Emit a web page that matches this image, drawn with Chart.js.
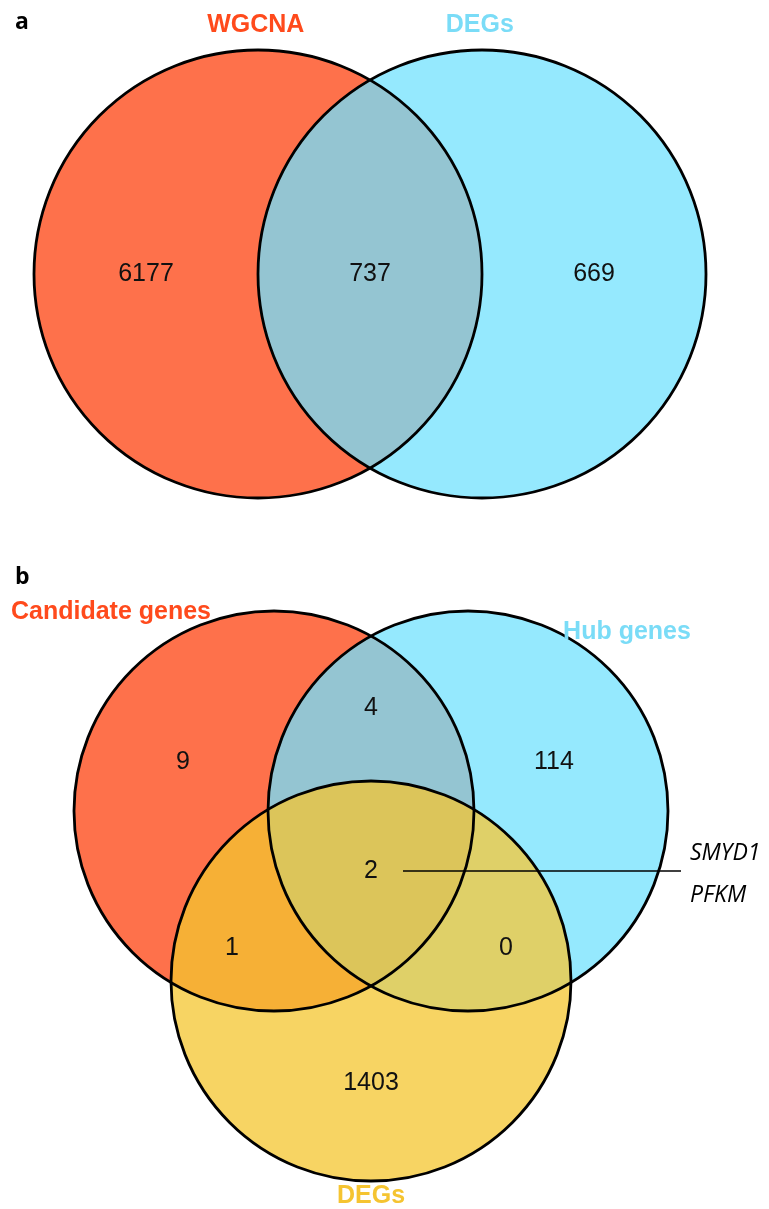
<!DOCTYPE html>
<html>
<head>
<meta charset="utf-8">
<script src="https://cdn.jsdelivr.net/npm/chart.js@4.4.1/dist/chart.umd.min.js"></script>
<style>
  html, body { margin: 0; padding: 0; background: #ffffff; }
  canvas { display: block; }
</style>
</head>
<body>
<canvas id="vennA" width="769" height="560"></canvas>
<canvas id="vennB" width="769" height="649"></canvas>
<script>
// ---- Panel a: WGCNA module genes vs. DEGs ----
const setNamesA = ['WGCNA', 'DEGs'];
const regionKeysA = ['10', '11', '01'];          // membership per set
const regionCountsA = [6177, 737, 669];

// ---- Panel b: candidate genes, hub genes, DEGs ----
const setNamesB = ['Candidate genes', 'Hub genes', 'DEGs'];
const regionKeysB = ['100', '010', '001', '110', '101', '011', '111'];
const regionCountsB = [9, 114, 1403, 4, 1, 0, 2];
const sharedGenesB = ['SMYD1', 'PFKM'];

// ---- styles ----
const setLabelColors = {
  red: '#FF4A1C',
  cyan: '#7ADCF7',
  yellow: '#F5C431'
};
const regionFillA = { '10': '#FE714B', '11': '#94C5D2', '01': '#95E9FE' };
const regionFillB = {
  '100': '#FE714B', '010': '#95E9FE', '001': '#F7D463',
  '110': '#94C5D2', '101': '#F6B036', '011': '#DFD068', '111': '#DCC55A'
};

// ---- layout (in circle-radius units) ----
const layoutA = {
  originPx: [370, 274], unitPx: 224,
  circles: [{ x: -0.5, y: 0, r: 1 }, { x: 0.5, y: 0, r: 1 }],
  regionPos: { '10': [-1.0, 0], '11': [0, 0], '01': [1.0, 0] },
  setLabelPos: [[-0.51, 1.08], [0.49, 1.08]],
  setLabelColor: [setLabelColors.red, setLabelColors.cyan],
  panelLetter: { text: 'a', pos: [-1.585, 1.094] }
};
const layoutB = {
  originPx: [371, 251], unitPx: 200,
  circles: [{ x: -0.485, y: 0, r: 1 }, { x: 0.485, y: 0, r: 1 }, { x: 0, y: -0.85, r: 1 }],
  regionPos: {
    '100': [-0.94, 0.245], '010': [0.915, 0.245], '001': [0, -1.36],
    '110': [0, 0.515], '101': [-0.695, -0.685], '011': [0.675, -0.685], '111': [0, -0.30]
  },
  setLabelPos: [[-1.30, 0.96], [1.28, 0.86], [0, -1.96]],
  setLabelColor: [setLabelColors.red, setLabelColors.cyan, setLabelColors.yellow],
  panelLetter: { text: 'b', pos: [-1.78, 1.135] },
  leader: { from: [0.16, -0.30], to: [1.55, -0.30] },
  geneLabelPos: [[1.595, -0.245], [1.595, -0.455]]
};

const NUM_FONT = '25px "Liberation Sans", Arial, sans-serif';
const SET_FONT = 'bold 25px "Liberation Sans", Arial, sans-serif';
const GENE_FONT = 'italic 23px "Open Sans", sans-serif';
const LETTER_FONT = 'bold 23px "Open Sans", sans-serif';

function vennPlugin(names, keys, counts, fills, layout, genes) {
  return {
    id: 'venn',
    beforeDatasetsDraw(chart) {
      const { ctx, scales: { x, y }, chartArea: area } = chart;
      const unit = x.getPixelForValue(1) - x.getPixelForValue(0);
      const circles = layout.circles.map(c => ({
        px: x.getPixelForValue(c.x), py: y.getPixelForValue(c.y), pr: c.r * unit
      }));
      // fill each region by clipping inside / outside the circles
      keys.forEach(k => {
        ctx.save();
        circles.forEach((c, i) => {
          ctx.beginPath();
          if (k[i] === '1') {
            ctx.arc(c.px, c.py, c.pr, 0, Math.PI * 2);
            ctx.clip();
          } else {
            ctx.rect(area.left - 10, area.top - 10, area.right - area.left + 20, area.bottom - area.top + 20);
            ctx.arc(c.px, c.py, c.pr, 0, Math.PI * 2);
            ctx.clip('evenodd');
          }
        });
        ctx.fillStyle = fills[k];
        ctx.fillRect(area.left, area.top, area.right - area.left, area.bottom - area.top);
        ctx.restore();
      });
      // circle outlines
      ctx.save();
      ctx.strokeStyle = '#000000';
      ctx.lineWidth = 2.8;
      circles.forEach(c => {
        ctx.beginPath();
        ctx.arc(c.px, c.py, c.pr, 0, Math.PI * 2);
        ctx.stroke();
      });
      ctx.restore();
    },
    afterDatasetsDraw(chart) {
      const { ctx, scales: { x, y } } = chart;
      const meta = chart.getDatasetMeta(0);
      ctx.save();
      // region counts at the dataset points
      ctx.fillStyle = '#111111';
      ctx.font = NUM_FONT;
      ctx.textAlign = 'center';
      ctx.textBaseline = 'middle';
      meta.data.forEach((pt, i) => {
        ctx.fillText(String(counts[i]), pt.x, pt.y);
      });
      // set names
      ctx.font = SET_FONT;
      ctx.textBaseline = 'alphabetic';
      names.forEach((n, i) => {
        const p = layout.setLabelPos[i];
        ctx.fillStyle = layout.setLabelColor[i];
        ctx.fillText(n, x.getPixelForValue(p[0]), y.getPixelForValue(p[1]));
      });
      // panel letter
      ctx.fillStyle = '#000000';
      ctx.font = LETTER_FONT;
      ctx.textAlign = 'left';
      const lp = layout.panelLetter.pos;
      ctx.fillText(layout.panelLetter.text, x.getPixelForValue(lp[0]), y.getPixelForValue(lp[1]));
      // genes shared by all three sets
      if (genes) {
        const l = layout.leader;
        ctx.strokeStyle = '#000000';
        ctx.lineWidth = 1.5;
        ctx.beginPath();
        ctx.moveTo(x.getPixelForValue(l.from[0]), y.getPixelForValue(l.from[1]));
        ctx.lineTo(x.getPixelForValue(l.to[0]), y.getPixelForValue(l.to[1]));
        ctx.stroke();
        ctx.font = GENE_FONT;
        ctx.fillStyle = '#000000';
        genes.forEach((g, i) => {
          const p = layout.geneLabelPos[i];
          ctx.fillText(g, x.getPixelForValue(p[0]), y.getPixelForValue(p[1]));
        });
      }
      ctx.restore();
    }
  };
}

function drawVenn(canvasId, names, keys, counts, fills, layout, genes) {
  const canvas = document.getElementById(canvasId);
  const W = canvas.width, H = canvas.height;
  const [ox, oy] = layout.originPx, u = layout.unitPx;
  const points = keys.map(k => ({ x: layout.regionPos[k][0], y: layout.regionPos[k][1] }));
  return new Chart(canvas, {
    type: 'scatter',
    data: { datasets: [{ data: points, pointRadius: 0, pointHoverRadius: 0 }] },
    options: {
      responsive: false,
      animation: false,
      events: [],
      layout: { padding: 0 },
      plugins: { legend: { display: false }, tooltip: { enabled: false } },
      scales: {
        x: { type: 'linear', display: false, min: -ox / u, max: (W - ox) / u },
        y: { type: 'linear', display: false, min: -(H - oy) / u, max: oy / u }
      }
    },
    plugins: [vennPlugin(names, keys, counts, fills, layout, genes)]
  });
}

drawVenn('vennA', setNamesA, regionKeysA, regionCountsA, regionFillA, layoutA, null);
drawVenn('vennB', setNamesB, regionKeysB, regionCountsB, regionFillB, layoutB, sharedGenesB);
</script>
</body>
</html>
